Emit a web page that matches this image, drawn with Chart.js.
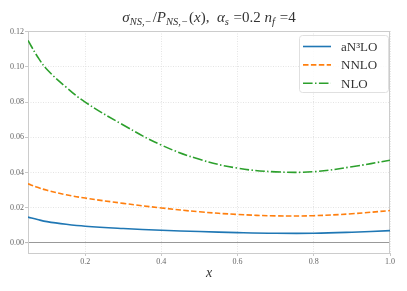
<!DOCTYPE html>
<html>
<head>
<meta charset="utf-8">
<script src="https://cdn.jsdelivr.net/npm/chart.js@4.4.0/dist/chart.umd.min.js"></script>
<style>
  html, body { margin: 0; padding: 0; background: #fff; }
  #wrap { width: 407px; height: 291px; }
</style>
</head>
<body>
<div id="wrap"><canvas id="myChart" width="407" height="291"></canvas></div>
<script>
var xValues = [0.05, 0.075, 0.1, 0.15, 0.2, 0.3, 0.4, 0.5, 0.6, 0.7, 0.8, 0.9, 1.0];
var an3lo = [0.0147, 0.0133, 0.0121, 0.0106, 0.0095, 0.0082, 0.0072, 0.0065, 0.0059, 0.0055, 0.0055, 0.0061, 0.0070];
var nnlo = [0.0336, 0.0316, 0.0299, 0.0274, 0.0255, 0.0225, 0.0199, 0.0177, 0.0162, 0.0154, 0.0155, 0.0166, 0.0184];
var nlo = [0.1150, 0.1058, 0.0985, 0.0885, 0.0800, 0.0670, 0.0556, 0.0475, 0.0425, 0.0404, 0.0405, 0.0433, 0.0470];
var seriesLabels = ["aN\u00b3LO", "NNLO", "NLO"];
var yTicks = [0, 0.02, 0.04, 0.06, 0.08, 0.10, 0.12];
var xTicks = [0.2, 0.4, 0.6, 0.8, 1.0];

var serif = "'Liberation Serif', 'DejaVu Serif', serif";

function pts(ys) {
  return xValues.map(function(x, i) { return { x: x, y: ys[i] }; });
}

// title pieces: i = italic, s = subscript, r = roman
var titleParts = [
  ["\u03c3", "i"], ["NS,\u2212", "s"], ["/", "r"], ["P", "i"], ["NS,\u2212", "s"],
  ["(", "r"], ["x", "i"], ["),  ", "r"], ["\u03b1", "i"], ["s", "s"],
  [" =0.2 ", "r"], ["n", "i"], ["f", "s"], [" =4", "r"]
];

var titlePlugin = {
  id: "mathTitle",
  afterDraw: function(chart) {
    var c = chart.ctx;
    function fontFor(s) {
      if (s === "s") return "italic 10.5px " + serif;
      if (s === "i") return "italic 15px " + serif;
      return "15px " + serif;
    }
    c.save();
    c.fillStyle = "#333";
    c.textBaseline = "alphabetic";
    var total = 0;
    titleParts.forEach(function(p) { c.font = fontFor(p[1]); total += c.measureText(p[0]).width + (p[1] === "s" ? 1 : 0); });
    var area = chart.chartArea;
    var x = (area.left + area.right) / 2 - total / 2;
    var base = 22;
    titleParts.forEach(function(p) {
      c.font = fontFor(p[1]);
      c.fillText(p[0], x, p[1] === "s" ? base + 3 : base);
      x += c.measureText(p[0]).width + (p[1] === "s" ? 1 : 0);
    });
    c.restore();
  }
};

var framePlugin = {
  id: "frame",
  beforeDatasetsDraw: function(chart) {
    var a = chart.chartArea, c = chart.ctx;
    c.save();
    c.strokeStyle = "#cccccc";
    c.lineWidth = 1;
    c.strokeRect(a.left + 0.5, a.top + 0.5, a.right - a.left - 1, a.bottom - a.top);
    c.restore();
  }
};

var legendPlugin = {
  id: "boxLegend",
  afterDraw: function(chart) {
    var a = chart.chartArea, c = chart.ctx;
    var bx = a.right - 91, by = a.top + 4, bw = 89, bh = 57;
    c.save();
    c.fillStyle = "rgba(255,255,255,0.85)";
    c.strokeStyle = "#e0e0e0";
    c.lineWidth = 1;
    c.beginPath();
    c.roundRect(bx + 0.5, by + 0.5, bw, bh, 3);
    c.fill();
    c.stroke();
    chart.data.datasets.forEach(function(ds, i) {
      var y = by + 11.5 + i * 18.4;
      c.strokeStyle = ds.borderColor;
      c.lineWidth = ds.borderWidth;
      c.setLineDash(ds.borderDash || []);
      c.beginPath();
      c.moveTo(bx + 4, y);
      c.lineTo(bx + 32, y);
      c.stroke();
      c.setLineDash([]);
      c.fillStyle = "#333";
      c.font = "13px " + serif;
      c.textBaseline = "middle";
      c.fillText(ds.label, bx + 42, y + 1);
    });
    c.restore();
  }
};

var ctx = document.getElementById("myChart");
var myChart = new Chart(ctx, {
  type: "line",
  data: {
    datasets: [
      { label: seriesLabels[0], data: pts(an3lo), borderColor: "#1f77b4", borderWidth: 1.6, borderDash: [] },
      { label: seriesLabels[1], data: pts(nnlo), borderColor: "#ff7f0e", borderWidth: 1.6, borderDash: [5.5, 2.4] },
      { label: seriesLabels[2], data: pts(nlo), borderColor: "#2ca02c", borderWidth: 1.6, borderDash: [9.6, 2.4, 1.5, 2.4] }
    ]
  },
  options: {
    responsive: false,
    animation: false,
    events: [],
    layout: { padding: { left: 0, right: 17, top: 31, bottom: 0 } },
    elements: {
      point: { radius: 0 },
      line: { tension: 0.4, fill: false }
    },
    plugins: {
      legend: { display: false },
      tooltip: { enabled: false },
      title: { display: false }
    },
    scales: {
      x: {
        type: "linear",
        min: 0.05,
        max: 1.0,
        afterBuildTicks: function(scale) {
          scale.ticks = xTicks.map(function(v) { return { value: v }; });
        },
        afterFit: function(scale) { scale.height = 38; },
        ticks: {
          color: "#666",
          font: { family: serif, size: 8 },
          padding: 1,
          maxRotation: 0,
          callback: function(v) { return v.toFixed(1); }
        },
        grid: { color: "#dddddd", lineWidth: 0.8, tickLength: 3, tickColor: "#bbbbbb" },
        border: { display: false, dash: [1, 1.5] },
        title: {
          display: true,
          text: "x",
          color: "#333",
          font: { family: serif, size: 14, style: "italic" },
          padding: { top: 0, bottom: 9 }
        }
      },
      y: {
        min: -0.0057,
        max: 0.1204,
        afterBuildTicks: function(scale) {
          scale.ticks = yTicks.map(function(v) { return { value: v }; });
        },
        afterFit: function(scale) { scale.width = 28; },
        ticks: {
          color: "#666",
          font: { family: serif, size: 8 },
          padding: 1,
          callback: function(v) { return v.toFixed(2); }
        },
        grid: {
          color: function(c) { return c.tick && c.tick.value === 0 ? "#999999" : "#dddddd"; },
          lineWidth: function(c) { return c.tick && c.tick.value === 0 ? 1.1 : 0.8; },
          tickLength: 3,
          tickColor: "#bbbbbb"
        },
        border: {
          display: false,
          dash: function(c) { return c.tick && c.tick.value === 0 ? [] : [1, 1.5]; }
        }
      }
    }
  },
  plugins: [framePlugin, legendPlugin, titlePlugin]
});
</script>
</body>
</html>
